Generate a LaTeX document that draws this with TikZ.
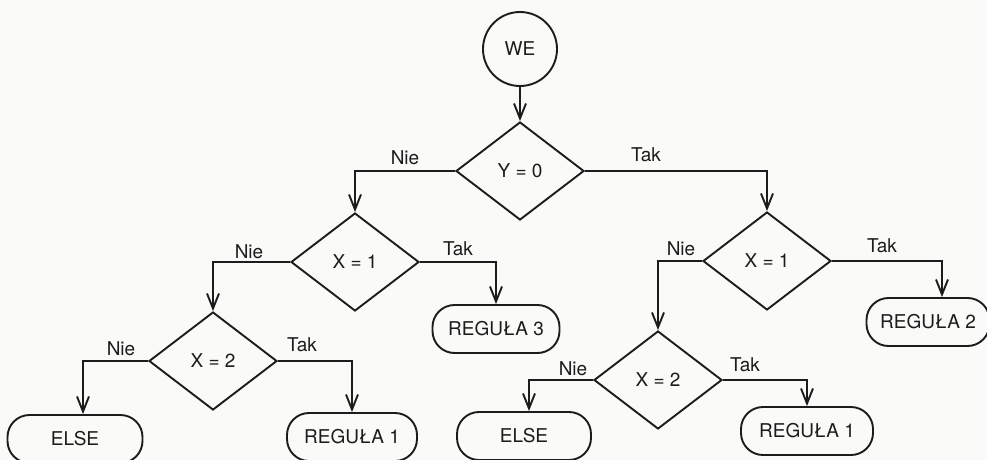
\documentclass[tikz,border=0pt]{standalone}
\usepackage{fontspec}
\setmainfont{TeX Gyre Heros}
\usetikzlibrary{shapes.geometric,arrows.meta}
\definecolor{paper}{RGB}{250,250,248}
\definecolor{ink}{RGB}{28,28,28}
\begin{document}
\begin{tikzpicture}[x=1pt,y=-1pt,
  line width=1.9pt, draw=ink, text=ink,
  every node/.style={font=\fontsize{19}{22}\selectfont, text=ink},
  dec/.style={draw=ink, diamond, minimum width=128pt, minimum height=98pt, inner sep=0pt},
  term/.style={draw=ink, rounded corners=22pt, minimum height=48pt, inner sep=0pt},
  start/.style={draw=ink, circle, minimum size=74pt, inner sep=0pt},
  flow/.style={draw=ink, -{Straight Barb[length=15pt,width=12pt]}},
  lbl/.style={inner sep=0pt}
]
\useasboundingbox (0,0) rectangle (987,460);
\fill[paper] (0,0) rectangle (987,460);
\clip (0,0) rectangle (987,460);

\node[start] (we) at (520,49) {WE};
\node[dec] (d0) at (520,171) {Y = 0};
\node[dec] (d1l) at (355,262) {X = 1};
\node[dec] (d2l) at (213,361) {X = 2};
\node[dec] (d1r) at (767,261) {X = 1};
\node[dec] (d2r) at (658,380) {X = 2};
\node[term, minimum width=127pt] (r3) at (496,329) {REGUŁA 3};
\node[term, minimum width=135pt] (elsel) at (75,439) {ELSE};
\node[term, minimum width=130pt] (r1l) at (352,437) {REGUŁA 1};
\node[term, minimum width=123pt] (r2) at (928,322) {REGUŁA 2};
\node[term, minimum width=134pt] (elser) at (524,436) {ELSE};
\node[term, minimum width=132pt] (r1r) at (807,431) {REGUŁA 1};

\draw[flow] (we.south) -- (d0.north);
\draw[flow] (d0.west) -| (d1l.north);
\draw[flow] (d0.east) -| (d1r.north);
\draw[flow] (d1l.west) -| (d2l.north);
\draw[flow] (d1l.east) -| (r3.north);
\draw[flow] (d2l.west) -| ([xshift=8pt]elsel.north);
\draw[flow] (d2l.east) -| (r1l.north);
\draw[flow] (d1r.west) -| (d2r.north);
\draw[flow] (d1r.east) -| ([xshift=14pt]r2.north);
\draw[flow] (d2r.west) -| ([xshift=5pt]elser.north);
\draw[flow] (d2r.east) -| (r1r.north);

\node[lbl] (n0) at (405,158) {Nie};
\node[lbl] (t0) at (646,155) {Tak};
\node[lbl] (n1l) at (249,252) {Nie};
\node[lbl] (t1l) at (458,249) {Tak};
\node[lbl] (n2l) at (121,349) {Nie};
\node[lbl] (t2l) at (302,345) {Tak};
\node[lbl] (n1r) at (681,249) {Nie};
\node[lbl] (t1r) at (882,246) {Tak};
\node[lbl] (n2r) at (573,369) {Nie};
\node[lbl] (t2r) at (745,365) {Tak};
\end{tikzpicture}
\end{document}
